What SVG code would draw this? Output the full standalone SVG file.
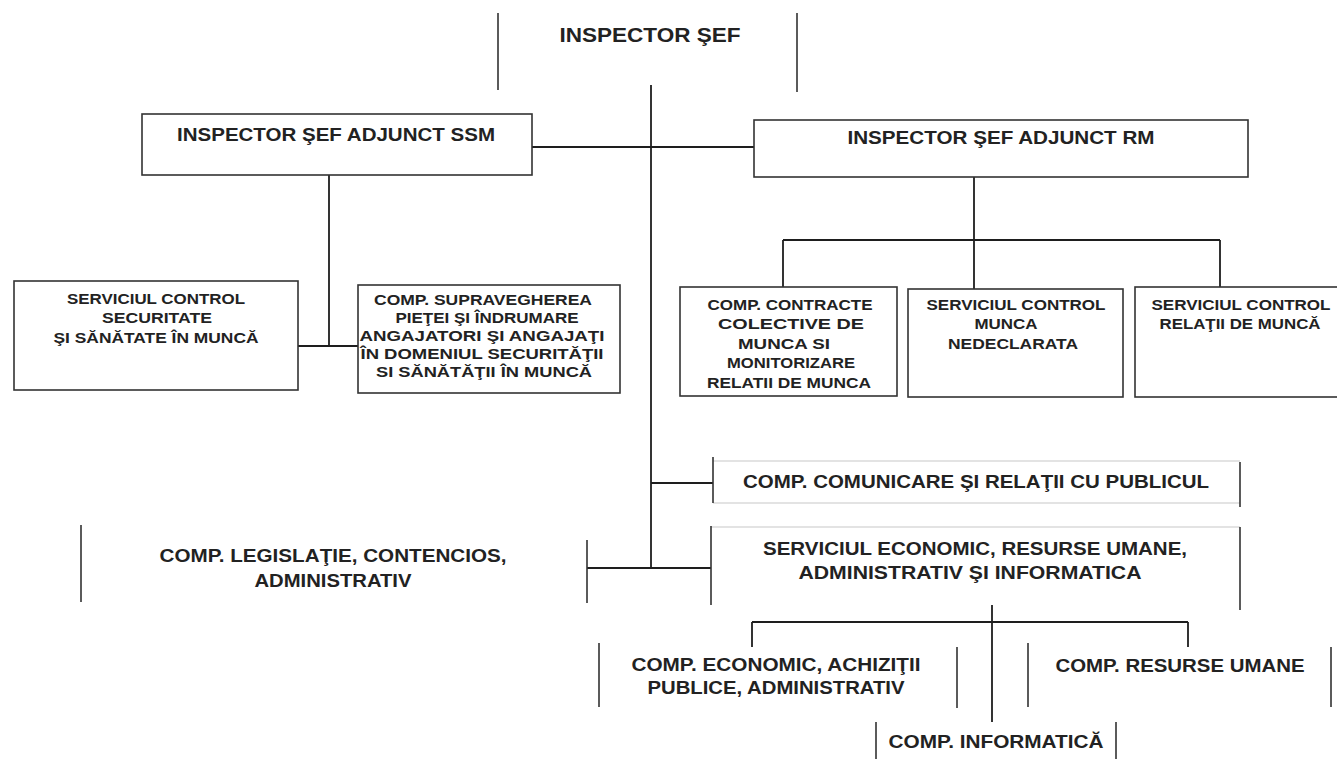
<svg xmlns="http://www.w3.org/2000/svg" width="1337" height="759" viewBox="0 0 1337 759">
<style>
.bx{fill:none;stroke:#333;stroke-width:1.6}
.ln{stroke:#333;stroke-width:1.6;fill:none}
.fl{stroke:#c8c8c8;stroke-width:1.2;fill:none}
.cn{stroke:#1e1e1e;stroke-width:1.8;fill:none}
text{font-family:"Liberation Sans","Arial",sans-serif;font-weight:bold;fill:#222;text-anchor:middle}
.t20{font-size:20px}
.t18{font-size:18px}
.t14{font-size:15px}
</style>
<rect width="1337" height="759" fill="#fff"/>

<g id="connectors">
  <path class="cn" d="M651,85 V568"/>
  <path class="cn" d="M532,147 H754"/>
  <path class="cn" d="M329,175 V346 M298,346 H358"/>
  <path class="cn" d="M974,177 V289 M783,240 H1220 M783,240 V287 M1220,240 V287"/>
  <path class="cn" d="M651,483 H713"/>
  <path class="cn" d="M587,568 H711"/>
  <path class="cn" d="M992,605 V722 M752,622 H1188 M752,622 V647 M1188,622 V647"/>
</g>

<g id="n-inspector-sef">
  <path class="ln" d="M498,13 V90 M797,13 V92"/>
  <text class="t20" x="650" y="42" textLength="181" lengthAdjust="spacingAndGlyphs">INSPECTOR ŞEF</text>
</g>

<g id="n-adjunct-ssm">
  <rect class="bx" x="142" y="114" width="390" height="61"/>
  <text class="t18" x="336" y="141" textLength="318" lengthAdjust="spacingAndGlyphs">INSPECTOR ŞEF ADJUNCT SSM</text>
</g>

<g id="n-adjunct-rm">
  <rect class="bx" x="754" y="120" width="494" height="57"/>
  <text class="t18" x="1001" y="144" textLength="307" lengthAdjust="spacingAndGlyphs">INSPECTOR ŞEF ADJUNCT RM</text>
</g>

<g id="n-sc-securitate">
  <rect class="bx" x="14" y="281" width="284" height="109"/>
  <text class="t14" x="156" y="304" textLength="178" lengthAdjust="spacingAndGlyphs">SERVICIUL CONTROL</text>
  <text class="t14" x="157" y="323" textLength="110" lengthAdjust="spacingAndGlyphs">SECURITATE</text>
  <text class="t14" x="156" y="343" textLength="205" lengthAdjust="spacingAndGlyphs">ŞI SĂNĂTATE ÎN MUNCĂ</text>
</g>

<g id="n-supraveghere">
  <rect class="bx" x="358" y="285" width="262" height="108"/>
  <text class="t14" x="483" y="305" textLength="218" lengthAdjust="spacingAndGlyphs">COMP. SUPRAVEGHEREA</text>
  <text class="t14" x="487" y="323" textLength="183" lengthAdjust="spacingAndGlyphs">PIEŢEI ŞI ÎNDRUMARE</text>
  <text class="t14" x="482" y="341" textLength="245" lengthAdjust="spacingAndGlyphs">ANGAJATORI ŞI ANGAJAŢI</text>
  <text class="t14" x="482" y="359" textLength="243" lengthAdjust="spacingAndGlyphs">ÎN DOMENIUL SECURITĂŢII</text>
  <text class="t14" x="484" y="377" textLength="216" lengthAdjust="spacingAndGlyphs">SI SĂNĂTĂŢII ÎN MUNCĂ</text>
</g>

<g id="n-contracte">
  <rect class="bx" x="680" y="287" width="217" height="109"/>
  <text class="t14" x="790" y="310" textLength="165" lengthAdjust="spacingAndGlyphs">COMP. CONTRACTE</text>
  <text class="t14" x="791" y="329" textLength="146" lengthAdjust="spacingAndGlyphs">COLECTIVE DE</text>
  <text class="t14" x="784" y="349" textLength="92" lengthAdjust="spacingAndGlyphs">MUNCA SI</text>
  <text class="t14" x="791" y="368" textLength="128" lengthAdjust="spacingAndGlyphs">MONITORIZARE</text>
  <text class="t14" x="789" y="388" textLength="164" lengthAdjust="spacingAndGlyphs">RELATII DE MUNCA</text>
</g>

<g id="n-nedeclarata">
  <rect class="bx" x="908" y="289" width="215" height="108"/>
  <text class="t14" x="1016" y="310" textLength="179" lengthAdjust="spacingAndGlyphs">SERVICIUL CONTROL</text>
  <text class="t14" x="1006" y="329" textLength="63" lengthAdjust="spacingAndGlyphs">MUNCA</text>
  <text class="t14" x="1013" y="349" textLength="130" lengthAdjust="spacingAndGlyphs">NEDECLARATA</text>
</g>

<g id="n-relatii-munca">
  <rect class="bx" x="1135" y="287" width="210" height="110"/>
  <text class="t14" x="1241" y="310" textLength="179" lengthAdjust="spacingAndGlyphs">SERVICIUL CONTROL</text>
  <text class="t14" x="1240" y="329" textLength="161" lengthAdjust="spacingAndGlyphs">RELAŢII DE MUNCĂ</text>
</g>

<g id="n-comunicare">
  <path class="fl" d="M713,461 H1240 M713,503 H1240"/>
  <path class="ln" d="M713,457 V503 M1240,462 V507"/>
  <text class="t18" x="976" y="488" textLength="466" lengthAdjust="spacingAndGlyphs">COMP. COMUNICARE ŞI RELAŢII CU PUBLICUL</text>
</g>

<g id="n-serviciul-economic">
  <path class="fl" d="M711,527 H1240"/>
  <path class="ln" d="M711,526 V605 M1240,527 V610"/>
  <text class="t18" x="975" y="555" textLength="424" lengthAdjust="spacingAndGlyphs">SERVICIUL ECONOMIC, RESURSE UMANE,</text>
  <text class="t18" x="970" y="579" textLength="343" lengthAdjust="spacingAndGlyphs">ADMINISTRATIV ŞI INFORMATICA</text>
</g>

<g id="n-legislatie">
  <path class="ln" d="M81,525 V602 M587,540 V603"/>
  <text class="t18" x="333" y="562" textLength="347" lengthAdjust="spacingAndGlyphs">COMP. LEGISLAŢIE, CONTENCIOS,</text>
  <text class="t18" x="333" y="587" textLength="157" lengthAdjust="spacingAndGlyphs">ADMINISTRATIV</text>
</g>

<g id="n-economic">
  <path class="ln" d="M599,643 V707 M957,647 V708"/>
  <text class="t18" x="776" y="671" textLength="289" lengthAdjust="spacingAndGlyphs">COMP. ECONOMIC, ACHIZIŢII</text>
  <text class="t18" x="776" y="694" textLength="257" lengthAdjust="spacingAndGlyphs">PUBLICE, ADMINISTRATIV</text>
</g>

<g id="n-resurse-umane">
  <path class="ln" d="M1028,643 V707 M1331,647 V707"/>
  <text class="t18" x="1180" y="672" textLength="249" lengthAdjust="spacingAndGlyphs">COMP. RESURSE UMANE</text>
</g>

<g id="n-informatica">
  <path class="ln" d="M876,722 V759 M1116,722 V759"/>
  <text class="t18" x="996" y="748" textLength="215" lengthAdjust="spacingAndGlyphs">COMP. INFORMATICĂ</text>
</g>
</svg>
